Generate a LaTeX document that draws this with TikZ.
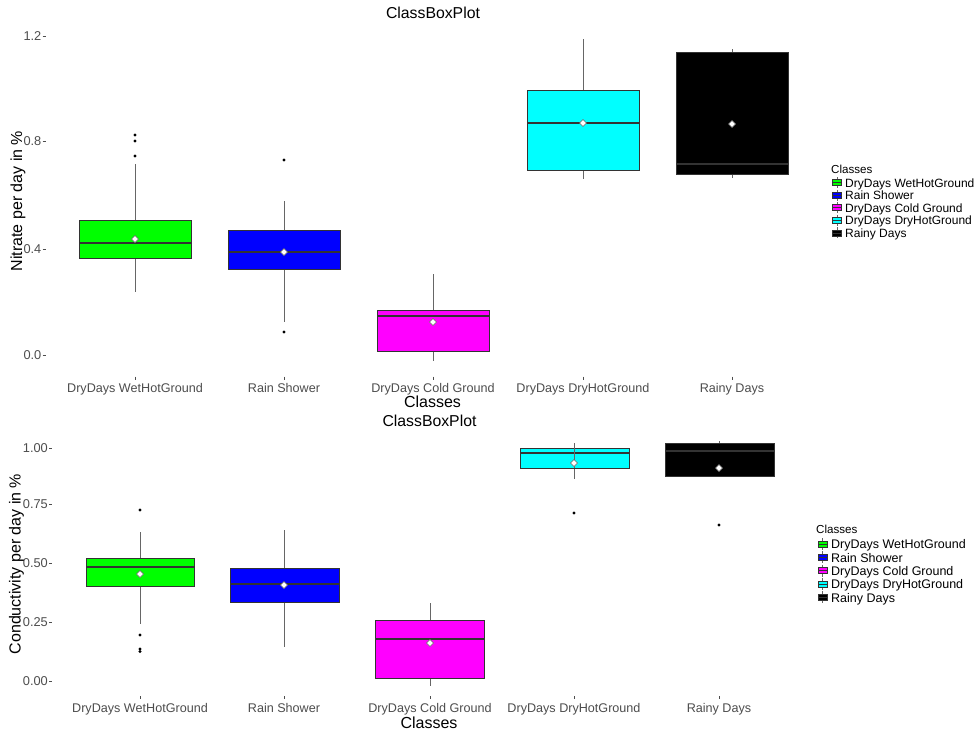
\documentclass[tikz,border=0pt]{standalone}
\usepackage{fontspec}
\setmainfont{Liberation Sans}
\usetikzlibrary{positioning}
\definecolor{tickgray}{HTML}{4D4D4D}
\definecolor{linegray}{HTML}{333333}
\definecolor{whiskgray}{HTML}{666666}
\definecolor{boxgreen}{RGB}{0,255,0}
\definecolor{boxblue}{RGB}{0,0,255}
\definecolor{boxmagenta}{RGB}{255,0,255}
\definecolor{boxcyan}{RGB}{0,255,255}
\begin{document}
\begin{tikzpicture}[x=1pt,y=-1pt,
    ticklab/.style={anchor=east,inner sep=0pt,text=tickgray,font=\fontsize{12.8}{14}\selectfont},
    classlab/.style={anchor=base,inner sep=0pt,text=tickgray,font=\fontsize{12.6}{14}\selectfont},
    axtitle/.style={anchor=base,inner sep=0pt,font=\fontsize{16}{18}\selectfont},
    plottitle/.style={anchor=base,inner sep=0pt,font=\fontsize{15.8}{18}\selectfont},
    legtitle/.style={anchor=base west,inner sep=0pt,font=\fontsize{11.6}{13}\selectfont},
    legtext/.style={anchor=base west,inner sep=0pt,font=\fontsize{12}{13}\selectfont},
    whisk/.style={color=whiskgray,line width=0.8pt},
    boxline/.style={draw=linegray,line width=0.7pt},
    median/.style={color=linegray,line width=1.3pt},
    meanpt/.style={draw=whiskgray,fill=white,line width=0.5pt},
    outl/.style={fill=black},
    tickmark/.style={color=tickgray,line width=0.6pt}]
    \useasboundingbox[fill=white] (0,0) rectangle (978,732);
    % upper plot: nitrate
    \node[plottitle] (titleA) at (433,18) {ClassBoxPlot};
    \node[ticklab] (yA12) at (41.5,36) {1.2};
    \node[ticklab] (yA08) at (41.5,141) {0.8};
    \node[ticklab] (yA04) at (41.5,249) {0.4};
    \node[ticklab] (yA00) at (41.5,355) {0.0};
    \draw[tickmark] (yA12.east) ++(1,0) -- ++(3,0);
    \draw[tickmark] (yA08.east) ++(1,0) -- ++(3,0);
    \draw[tickmark] (yA04.east) ++(1,0) -- ++(3,0);
    \draw[tickmark] (yA00.east) ++(1,0) -- ++(3,0);
    \node[axtitle,rotate=90] (ytitleA) at (22,201) {Nitrate per day in \%};
    % green
    \draw[whisk] (135,164) -- (135,292);
    \draw[boxline,fill=boxgreen] (79,220) rectangle (191,258);
    \draw[median] (79,243) -- (191,243);
    \draw[meanpt] (135,239) +(-3.5,0) -- +(0,-3.5) -- +(3.5,0) -- +(0,3.5) -- cycle;
    \fill[outl] (135,135) circle (1.6);
    \fill[outl] (135,141) circle (1.6);
    \fill[outl] (135,156) circle (1.6);
    % blue
    \draw[whisk] (284,201) -- (284,322);
    \draw[boxline,fill=boxblue] (228,230) rectangle (340,269);
    \draw[median] (228,252) -- (340,252);
    \draw[meanpt] (284,252) +(-3.5,0) -- +(0,-3.5) -- +(3.5,0) -- +(0,3.5) -- cycle;
    \fill[outl] (284,160) circle (1.6);
    \fill[outl] (284,332) circle (1.6);
    % magenta
    \draw[whisk] (433,274) -- (433,361);
    \draw[boxline,fill=boxmagenta] (377,310) rectangle (489,351);
    \draw[median] (377,316) -- (489,316);
    \draw[meanpt] (433,322) +(-3.5,0) -- +(0,-3.5) -- +(3.5,0) -- +(0,3.5) -- cycle;
    % cyan
    \draw[whisk] (583,39) -- (583,179);
    \draw[boxline,fill=boxcyan] (527,90) rectangle (639,170);
    \draw[median] (527,123) -- (639,123);
    \draw[meanpt] (583,123) +(-3.5,0) -- +(0,-3.5) -- +(3.5,0) -- +(0,3.5) -- cycle;
    % black
    \draw[whisk] (732,49) -- (732,178);
    \draw[boxline,fill=black] (676,52) rectangle (788,174);
    \draw[median] (676,164) -- (788,164);
    \draw[meanpt] (732,124) +(-3.5,0) -- +(0,-3.5) -- +(3.5,0) -- +(0,3.5) -- cycle;
    \node[classlab] (xA1) at (135,392) {DryDays WetHotGround};
    \node[classlab] (xA2) at (284,392) {Rain Shower};
    \node[classlab] (xA3) at (433,392) {DryDays Cold Ground};
    \node[classlab] (xA4) at (583,392) {DryDays DryHotGround};
    \node[classlab] (xA5) at (732,392) {Rainy Days};
    \draw[tickmark] (135,376.5) -- (135,379.5);
    \draw[tickmark] (284,376.5) -- (284,379.5);
    \draw[tickmark] (433,376.5) -- (433,379.5);
    \draw[tickmark] (583,376.5) -- (583,379.5);
    \draw[tickmark] (732,376.5) -- (732,379.5);
    \node[axtitle] (xtitleA) at (432.5,407) {Classes};
    % upper legend
    \node[legtitle] (legA) at (831,173) {Classes};
    \node[legtext] (legA1) at (845,187) {DryDays WetHotGround};
    \node[legtext] (legA2) at (845,199.6) {Rain Shower};
    \node[legtext] (legA3) at (845,212.2) {DryDays Cold Ground};
    \node[legtext] (legA4) at (845,224.8) {DryDays DryHotGround};
    \node[legtext] (legA5) at (845,237.4) {Rainy Days};
    \draw[whisk] (837,177) -- (837,188);
    \draw[boxline,fill=boxgreen] (832.5,179.5) rectangle (841.5,185.5);
    \draw[median,line width=0.8pt] (832.5,182.5) -- (841.5,182.5);
    \draw[whisk] (837,189.6) -- (837,200.6);
    \draw[boxline,fill=boxblue] (832.5,192.1) rectangle (841.5,198.1);
    \draw[median,line width=0.8pt] (832.5,195.1) -- (841.5,195.1);
    \draw[whisk] (837,202.2) -- (837,213.2);
    \draw[boxline,fill=boxmagenta] (832.5,204.7) rectangle (841.5,210.7);
    \draw[median,line width=0.8pt] (832.5,207.7) -- (841.5,207.7);
    \draw[whisk] (837,214.8) -- (837,225.8);
    \draw[boxline,fill=boxcyan] (832.5,217.3) rectangle (841.5,223.3);
    \draw[median,line width=0.8pt] (832.5,220.3) -- (841.5,220.3);
    \draw[whisk] (837,227.4) -- (837,238.4);
    \draw[boxline,fill=black] (832.5,229.9) rectangle (841.5,235.9);
    \draw[median,line width=0.8pt] (832.5,232.9) -- (841.5,232.9);
    % lower plot: conductivity
    \node[plottitle] (titleB) at (429.5,426) {ClassBoxPlot};
    \node[ticklab] (yB100) at (48,448) {1.00};
    \node[ticklab] (yB075) at (48,504) {0.75};
    \node[ticklab] (yB050) at (48,563) {0.50};
    \node[ticklab] (yB025) at (48,622) {0.25};
    \node[ticklab] (yB000) at (48,681) {0.00};
    \draw[tickmark] (yB100.east) ++(1,0) -- ++(3,0);
    \draw[tickmark] (yB075.east) ++(1,0) -- ++(3,0);
    \draw[tickmark] (yB050.east) ++(1,0) -- ++(3,0);
    \draw[tickmark] (yB025.east) ++(1,0) -- ++(3,0);
    \draw[tickmark] (yB000.east) ++(1,0) -- ++(3,0);
    \node[axtitle,rotate=90] (ytitleB) at (20.5,564) {Conductivity per day in \%};
    % green
    \draw[whisk] (140,532) -- (140,624);
    \draw[boxline,fill=boxgreen] (86,558) rectangle (194,586);
    \draw[median] (86,567) -- (194,567);
    \draw[meanpt] (140,574) +(-3.5,0) -- +(0,-3.5) -- +(3.5,0) -- +(0,3.5) -- cycle;
    \fill[outl] (140,510) circle (1.6);
    \fill[outl] (140,635) circle (1.6);
    \fill[outl] (140,649) circle (1.6);
    \fill[outl] (140,651.5) circle (1.6);
    % blue
    \draw[whisk] (284,530) -- (284,647);
    \draw[boxline,fill=boxblue] (230,568) rectangle (339,602);
    \draw[median] (230,584) -- (339,584);
    \draw[meanpt] (284,585) +(-3.5,0) -- +(0,-3.5) -- +(3.5,0) -- +(0,3.5) -- cycle;
    % magenta
    \draw[whisk] (430,603) -- (430,686);
    \draw[boxline,fill=boxmagenta] (375,620) rectangle (484,678);
    \draw[median] (375,639) -- (484,639);
    \draw[meanpt] (430,643) +(-3.5,0) -- +(0,-3.5) -- +(3.5,0) -- +(0,3.5) -- cycle;
    % cyan
    \draw[whisk] (574,443) -- (574,479);
    \draw[boxline,fill=boxcyan] (520,448) rectangle (629,468);
    \draw[median] (520,453) -- (629,453);
    \draw[whisk] (574,448) -- (574,468);
    \draw[meanpt] (574,463) +(-3.5,0) -- +(0,-3.5) -- +(3.5,0) -- +(0,3.5) -- cycle;
    \fill[outl] (574,513) circle (1.6);
    % black
    \draw[whisk] (719,441) -- (719,476);
    \draw[boxline,fill=black] (665,443) rectangle (774,476);
    \draw[median] (665,451) -- (774,451);
    \draw[meanpt] (719,468) +(-3.5,0) -- +(0,-3.5) -- +(3.5,0) -- +(0,3.5) -- cycle;
    \fill[outl] (719,525) circle (1.6);
    \node[classlab] (xB1) at (140,712) {DryDays WetHotGround};
    \node[classlab] (xB2) at (284,712) {Rain Shower};
    \node[classlab] (xB3) at (430,712) {DryDays Cold Ground};
    \node[classlab] (xB4) at (574,712) {DryDays DryHotGround};
    \node[classlab] (xB5) at (719,712) {Rainy Days};
    \draw[tickmark] (140,696) -- (140,699);
    \draw[tickmark] (284,696) -- (284,699);
    \draw[tickmark] (430,696) -- (430,699);
    \draw[tickmark] (574,696) -- (574,699);
    \draw[tickmark] (719,696) -- (719,699);
    \node[axtitle] (xtitleB) at (429,728) {Classes};
    % lower legend
    \node[legtitle] (legB) at (816,533) {Classes};
    \node[legtext,font=\fontsize{12.5}{14}\selectfont] (legB1) at (831,548.7) {DryDays WetHotGround};
    \node[legtext,font=\fontsize{12.5}{14}\selectfont] (legB2) at (831,562) {Rain Shower};
    \node[legtext,font=\fontsize{12.5}{14}\selectfont] (legB3) at (831,575.3) {DryDays Cold Ground};
    \node[legtext,font=\fontsize{12.5}{14}\selectfont] (legB4) at (831,588.7) {DryDays DryHotGround};
    \node[legtext,font=\fontsize{12.5}{14}\selectfont] (legB5) at (831,602) {Rainy Days};
    \draw[whisk] (822.5,538) -- (822.5,550);
    \draw[boxline,fill=boxgreen] (818,541) rectangle (827,547);
    \draw[median,line width=0.8pt] (818,544) -- (827,544);
    \draw[whisk] (822.5,551.3) -- (822.5,563.3);
    \draw[boxline,fill=boxblue] (818,554.3) rectangle (827,560.3);
    \draw[median,line width=0.8pt] (818,557.3) -- (827,557.3);
    \draw[whisk] (822.5,564.6) -- (822.5,576.6);
    \draw[boxline,fill=boxmagenta] (818,567.6) rectangle (827,573.6);
    \draw[median,line width=0.8pt] (818,570.6) -- (827,570.6);
    \draw[whisk] (822.5,578) -- (822.5,590);
    \draw[boxline,fill=boxcyan] (818,581) rectangle (827,587);
    \draw[median,line width=0.8pt] (818,584) -- (827,584);
    \draw[whisk] (822.5,591.3) -- (822.5,603.3);
    \draw[boxline,fill=black] (818,594.3) rectangle (827,600.3);
    \draw[median,line width=0.8pt] (818,597.3) -- (827,597.3);
\end{tikzpicture}
\end{document}
